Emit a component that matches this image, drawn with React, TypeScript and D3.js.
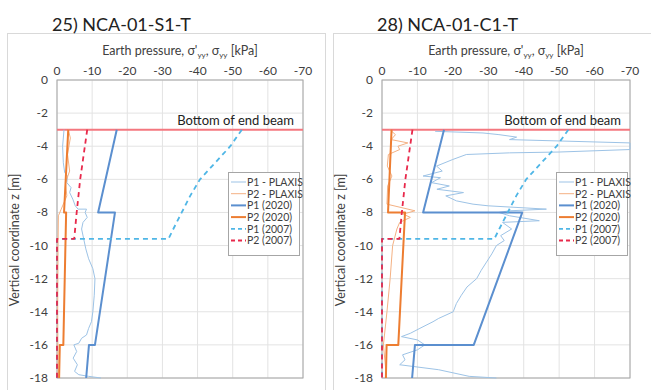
import React from 'react';
import * as d3 from 'd3';

// axis ticks
const pressureTicks = [0, -10, -20, -30, -40, -50, -60, -70];
const depthTicks = [0, -2, -4, -6, -8, -10, -12, -14, -16, -18];
const beamDepth = -3;

const titles = ['25) NCA-01-S1-T', '28) NCA-01-C1-T'];
const legendLabels = ['P1 - PLAXIS', 'P2 - PLAXIS', 'P1 (2020)', 'P2 (2020)', 'P1 (2007)', 'P2 (2007)'];

// [pressure kPa, z m]
const s1_p1Plaxis = [
    [-2.0, -3.0], [-1.6, -4.0], [-1.8, -5.0], [-2.2, -5.6], [-3.0, -5.8], [-2.8, -6.2], [-4.0, -6.5],
    [-3.6, -6.8], [-4.5, -7.2], [-5.2, -7.6], [-6.0, -7.8], [-8.4, -7.8], [-8.0, -8.0], [-8.6, -8.3],
    [-7.4, -8.6], [-7.0, -9.0], [-7.6, -9.6], [-8.2, -10.2], [-9.0, -10.8], [-10.2, -11.4], [-10.8, -12.0],
    [-10.6, -13.0], [-10.2, -14.0], [-9.8, -14.6], [-9.0, -15.0], [-8.4, -15.4], [-7.0, -15.6], [-6.2, -15.9],
    [-4.8, -16.0], [-5.6, -16.4], [-4.6, -16.8], [-5.8, -17.2], [-5.0, -17.6], [-6.2, -17.8], [-9.0, -17.9], [-12.5, -18.0],
];
const s1_p2Plaxis = [
    [-3.2, -3.0], [-3.8, -3.5], [-3.0, -4.5], [-3.6, -5.5], [-2.4, -6.2], [-2.8, -7.0], [-1.2, -7.8],
    [-0.4, -8.2], [-0.3, -10.0], [-0.2, -14.0], [-0.3, -18.0],
];
const s1_p1_2020 = [[-17.0, -3], [-11.7, -8], [-16.5, -8], [-10.8, -16], [-9.1, -16], [-8.3, -18]];
const s1_p2_2020 = [[-3.2, -3], [-2.0, -8], [-2.6, -8], [-1.8, -16], [-0.8, -16], [-0.6, -18]];

const c1_p1Plaxis = [
    [-15.0, -3.1], [-28.5, -3.2], [-33.0, -3.3], [-38.0, -3.45], [-36.0, -3.6], [-70.0, -3.8], [-70.0, -4.2],
    [-50.0, -4.35], [-36.0, -4.4], [-23.8, -4.5], [-20.0, -4.8], [-15.4, -5.2], [-17.0, -5.5], [-11.6, -5.8],
    [-16.5, -5.9], [-14.0, -6.2], [-19.0, -6.4], [-15.5, -6.6], [-23.0, -6.8], [-18.0, -7.0], [-21.0, -7.3],
    [-25.7, -7.5], [-30.0, -7.6], [-46.4, -7.8], [-36.0, -7.9], [-33.0, -8.0], [-36.0, -8.2], [-44.4, -8.5],
    [-34.0, -8.6], [-36.6, -9.0], [-33.5, -9.4], [-34.5, -9.7], [-32.3, -10.0], [-31.0, -10.5], [-29.5, -11.0],
    [-28.0, -11.5], [-26.7, -12.0], [-24.0, -12.5], [-22.4, -13.0], [-21.0, -13.5], [-20.1, -14.0], [-16.0, -14.4],
    [-14.4, -14.6], [-10.7, -15.0], [-8.0, -15.3], [-5.5, -15.5], [-10.0, -15.7], [-12.1, -16.0], [-10.0, -16.3],
    [-5.8, -16.6], [-6.5, -16.9], [-5.0, -17.2], [-16.0, -17.5], [-24.6, -17.9], [-32.3, -18.0],
];
const c1_p2Plaxis = [
    [-2.2, -3.0], [-3.8, -3.3], [-2.6, -3.6], [-7.3, -3.8], [-4.5, -4.0], [-5.0, -4.2], [-1.8, -4.5],
    [-1.5, -5.2], [-2.8, -5.8], [-1.6, -6.4], [-1.4, -7.5], [-9.3, -7.9], [-6.0, -8.1], [-8.0, -8.3],
    [-5.0, -8.6], [-4.2, -9.0], [-3.0, -10.0], [-2.3, -12.0], [-1.4, -14.0], [-0.4, -16.0], [-1.3, -18.0],
];
const c1_p1_2020 = [[-17.5, -3], [-11.6, -8], [-39.6, -8], [-25.9, -16], [-9.3, -16], [-8.5, -18]];
const c1_p2_2020 = [[-2.7, -3], [-1.7, -8], [-6.5, -8], [-4.6, -16], [-1.3, -16], [-1.1, -18]];

// 2007 design curves (same in both tests)
const p1_2007 = [
    [-52.6, -3], [-49.3, -4], [-45.0, -5], [-40.7, -6], [-37.9, -7], [-35.5, -8], [-33.1, -9], [-31.7, -9.6],
    [0, -9.6], [0, -18],
];
const p2_2007 = [[-8.6, -3], [-7.6, -4.5], [-6.6, -6], [-5.6, -8], [-4.9, -9.6], [0, -9.6], [0, -18]];

const styles = [
    { color: '#9dc3e6', width: 1, dash: null },
    { color: '#f4b183', width: 1, dash: null },
    { color: '#5b8fcf', width: 2, dash: null },
    { color: '#ed7d31', width: 2, dash: null },
    { color: '#4fb6e6', width: 1.8, dash: '5,4' },
    { color: '#e8294b', width: 1.8, dash: '5,4' },
];

const font = 'Lato, "Open Sans", sans-serif';

const Panel = (props) => {
    const { ox, plotLeft, plotRight, legendX, title, series } = props;
    const top = 80, bottom = 378;
    const x = d3.scaleLinear().domain([0, -70]).range([plotLeft, plotRight]);
    const y = d3.scaleLinear().domain([0, -18]).range([top, bottom]);
    const line = d3.line().x((d) => x(d[0])).y((d) => y(d[1]));
    const cx = (plotLeft + plotRight) / 2;

    return (
        <g>
            <rect x={ox + 0.5} y={33.5} width={318} height={400} fill="#fff" stroke="#d9d9d9" />
            <text x={plotLeft - 5} y={31} fontSize={18} fill="#222" fontWeight={400}>{title}</text>
            <text x={cx} y={55} fontSize={12.5} textAnchor="middle" fill="#404040">
                Earth pressure, σ'<tspan fontSize={8} dy={3}>yy</tspan><tspan dy={-3}>, σ</tspan><tspan fontSize={8} dy={3}>yy</tspan><tspan dy={-3}> [kPa]</tspan>
            </text>
            <text transform={`translate(${ox + 12},${240}) rotate(-90)`} fontSize={12.5} textAnchor="middle" fill="#404040">
                Vertical coordinate z [m]
            </text>
            {pressureTicks.map((t) => (
                <g key={'px' + t}>
                    <line x1={x(t)} x2={x(t)} y1={top} y2={bottom} stroke="#e3e3e3" />
                    <text x={x(t)} y={75} fontSize={12} textAnchor="middle" fill="#404040">{t}</text>
                </g>
            ))}
            {depthTicks.map((t) => (
                <g key={'z' + t}>
                    <line x1={plotLeft} x2={plotRight} y1={y(t)} y2={y(t)} stroke="#e3e3e3" />
                    <text x={plotLeft - 9} y={y(t) + 4} fontSize={12} textAnchor="end" fill="#404040">{t}</text>
                </g>
            ))}
            <rect x={plotLeft} y={top} width={plotRight - plotLeft} height={bottom - top} fill="none" stroke="#a6a6a6" />
            <line x1={plotLeft} x2={plotRight} y1={y(beamDepth)} y2={y(beamDepth)} stroke="#f4777f" strokeWidth={2} />
            <text x={plotRight - 9} y={y(beamDepth) - 5} fontSize={13} textAnchor="end" fill="#222">Bottom of end beam</text>
            {series.map((s, i) => (
                <path key={i} d={line(s)} fill="none" stroke={styles[i].color} strokeWidth={styles[i].width}
                    strokeDasharray={styles[i].dash || undefined} strokeLinejoin="round" />
            ))}
            <rect x={legendX + 0.5} y={172.5} width={71} height={83} fill="#fff" stroke="#a6a6a6" />
            {legendLabels.map((lab, i) => {
                const ly = 182 + i * 11.7;
                return (
                    <g key={lab}>
                        <line x1={legendX + 3} x2={legendX + 18} y1={ly} y2={ly} stroke={styles[i].color}
                            strokeWidth={styles[i].width} strokeDasharray={styles[i].dash ? '4,3' : undefined} />
                        <text x={legendX + 19} y={ly + 3.8} fontSize={10.5} fill="#404040">{lab}</text>
                    </g>
                );
            })}
        </g>
    );
};

const App = () => {
    return (
        <svg width={651} height={390} style={{ position: 'absolute', left: 0, top: 0, fontFamily: font }}>
            <rect width={651} height={390} fill="#fff" />
            <Panel ox={7} plotLeft={57} plotRight={303} legendX={228} title={titles[0]}
                series={[s1_p1Plaxis, s1_p2Plaxis, s1_p1_2020, s1_p2_2020, p1_2007, p2_2007]} />
            <Panel ox={333} plotLeft={382} plotRight={630} legendX={556} title={titles[1]}
                series={[c1_p1Plaxis, c1_p2Plaxis, c1_p1_2020, c1_p2_2020, p1_2007, p2_2007]} />
        </svg>
    );
};

export default App;
